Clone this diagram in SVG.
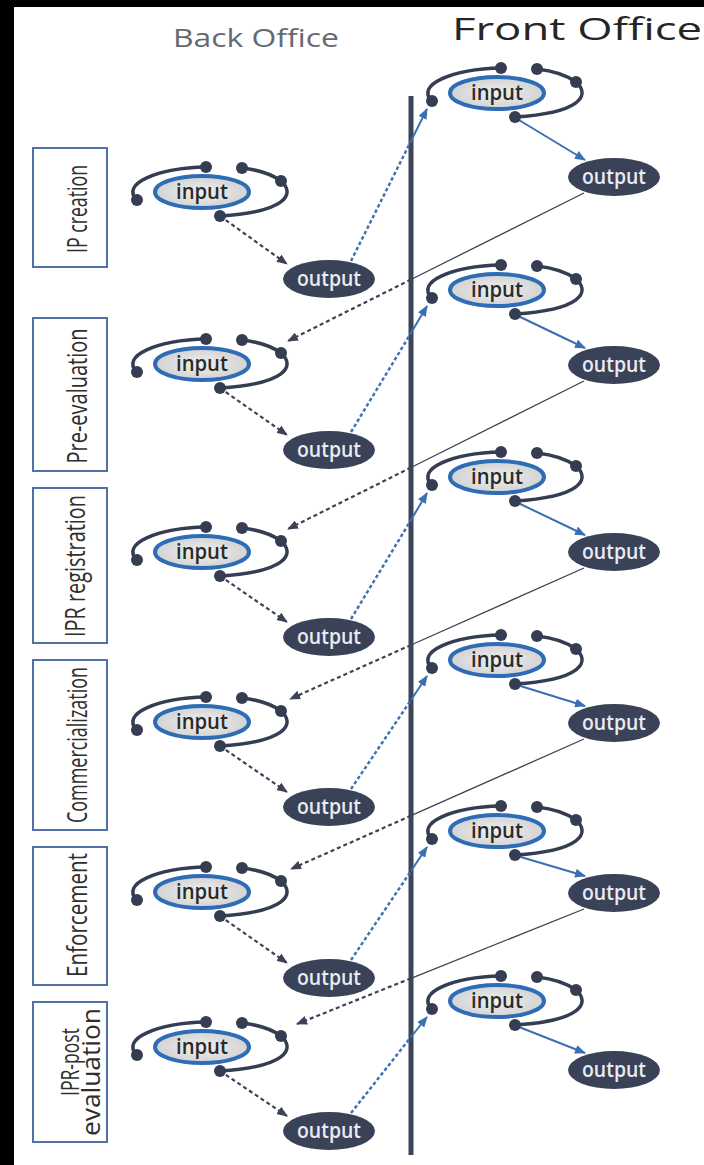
<svg xmlns="http://www.w3.org/2000/svg" xmlns:xlink="http://www.w3.org/1999/xlink" width="704" height="1165" viewBox="0 0 704 1165">
<style>
.lbl{font-family:"Open Sans","Liberation Sans",sans-serif;fill:#2f2f2f;text-anchor:middle}
.box{fill:#fff;stroke:#5071a6;stroke-width:2}
.in{font-family:"Open Sans","Liberation Sans",sans-serif;font-size:21px;font-weight:600;fill:#2a2a2a;text-anchor:middle}
.out{font-family:"Open Sans","Liberation Sans",sans-serif;font-size:21px;font-weight:600;fill:#e8ebf1;text-anchor:middle}
.outE{fill:#3a4258}
.dash{fill:none;stroke:#3d4357;stroke-width:2.2;stroke-dasharray:4 3}
.bdot{fill:none;stroke:#3e72b5;stroke-width:2.5;stroke-dasharray:3.5 2.5}
.bsol{fill:none;stroke:#3a6fb3;stroke-width:2}
.thin{fill:none;stroke:#3d4357;stroke-width:1.3}
</style>
<defs>
<radialGradient id="g" cx="0.5" cy="0.5" r="0.6">
<stop offset="0" stop-color="#efefef"/><stop offset="1" stop-color="#cdcdcd"/>
</radialGradient>
<g id="loop">
<path d="M4,-25 C-45,-24 -82,-8 -65,8" fill="none" stroke="#353d52" stroke-width="3.5"/>
<path d="M40,-24 C58,-22 72,-16 79,-11 C94,2 84,20 18,24" fill="none" stroke="#353d52" stroke-width="3.5"/>
<ellipse cx="0" cy="0" rx="47" ry="16" fill="url(#g)" stroke="#2e6db5" stroke-width="4"/>
<circle cx="4" cy="-25" r="6" fill="#353d52"/>
<circle cx="40" cy="-24" r="6" fill="#353d52"/>
<circle cx="79" cy="-11" r="6" fill="#353d52"/>
<circle cx="-65" cy="8" r="6" fill="#353d52"/>
<circle cx="18" cy="24" r="6" fill="#353d52"/>
</g>
<marker id="ad" markerUnits="userSpaceOnUse" markerWidth="11" markerHeight="9" refX="10" refY="4.5" orient="auto"><path d="M0,0 L11,4.5 L0,9 z" fill="#3d4357"/></marker>
<marker id="ab" markerUnits="userSpaceOnUse" markerWidth="11" markerHeight="9" refX="10" refY="4.5" orient="auto"><path d="M0,0 L11,4.5 L0,9 z" fill="#3a6fb3"/></marker>
</defs>
<rect x="0" y="0" width="704" height="1165" fill="#ffffff"/>
<rect x="0" y="0" width="704" height="7" fill="#000"/>
<rect x="0" y="0" width="14" height="1165" fill="#000"/>

<g id="headers">
<text x="256" y="47" font-family="Open Sans, Liberation Sans, sans-serif" font-size="25" fill="#666a70" text-anchor="middle" textLength="166" lengthAdjust="spacingAndGlyphs">Back Office</text>
<text x="452" y="40" font-family="Open Sans, Liberation Sans, sans-serif" font-size="31" fill="#262626" textLength="250" lengthAdjust="spacingAndGlyphs">Front Office</text>
</g>

<g id="divider"><line x1="411" y1="96" x2="411" y2="1155" stroke="#3b4459" stroke-width="5"/></g>

<g id="stages">
<g id="stage1"><rect class="box" x="33" y="148" width="74" height="119"/><text class="lbl" font-size="27" transform="translate(87,209) rotate(-90)" textLength="88" lengthAdjust="spacingAndGlyphs">IP creation</text></g>
<g id="stage2"><rect class="box" x="33" y="318" width="74" height="153"/><text class="lbl" font-size="27" transform="translate(87,396) rotate(-90)" textLength="135" lengthAdjust="spacingAndGlyphs">Pre-evaluation</text></g>
<g id="stage3"><rect class="box" x="33" y="488" width="74" height="155"/><text class="lbl" font-size="27" transform="translate(85,566) rotate(-90)" textLength="142" lengthAdjust="spacingAndGlyphs">IPR registration</text></g>
<g id="stage4"><rect class="box" x="33" y="660" width="74" height="170"/><text class="lbl" font-size="27" transform="translate(87,745) rotate(-90)" textLength="156" lengthAdjust="spacingAndGlyphs">Commercialization</text></g>
<g id="stage5"><rect class="box" x="33" y="847" width="74" height="138"/><text class="lbl" font-size="27" transform="translate(87,915) rotate(-90)" textLength="124" lengthAdjust="spacingAndGlyphs">Enforcement</text></g>
<g id="stage6"><rect class="box" x="33" y="1002" width="74" height="140"/><text class="lbl" font-size="25" transform="translate(79,1062) rotate(-90)" textLength="68" lengthAdjust="spacingAndGlyphs">IPR-post</text><text class="lbl" font-size="25" transform="translate(100,1072) rotate(-90)" textLength="128" lengthAdjust="spacingAndGlyphs">evaluation</text></g>
</g>

<g id="connectors">
<path class="dash" marker-end="url(#ad)" d="M220,216 L287,264"/>
<path class="dash" marker-end="url(#ad)" d="M220,388 L287,435"/>
<path class="dash" marker-end="url(#ad)" d="M220,576 L287,622"/>
<path class="dash" marker-end="url(#ad)" d="M220,746 L287,792"/>
<path class="dash" marker-end="url(#ad)" d="M220,916 L287,963"/>
<path class="dash" marker-end="url(#ad)" d="M220,1071 L287,1116"/>

<path class="bdot" d="M351,261 L411,141"/><path class="bsol" marker-end="url(#ab)" d="M411,141 L427,109"/>
<path class="bdot" d="M351,432 L411,333"/><path class="bsol" marker-end="url(#ab)" d="M411,333 L427,306"/>
<path class="bdot" d="M351,619 L411,520"/><path class="bsol" marker-end="url(#ab)" d="M411,520 L427,493"/>
<path class="bdot" d="M351,789 L411,700"/><path class="bsol" marker-end="url(#ab)" d="M411,700 L427,676"/>
<path class="bdot" d="M351,960 L411,871"/><path class="bsol" marker-end="url(#ab)" d="M411,871 L427,847"/>
<path class="bdot" d="M351,1113 L411,1037"/><path class="bsol" marker-end="url(#ab)" d="M411,1037 L427,1017"/>

<path class="bsol" marker-end="url(#ab)" d="M514,117 L585,160"/>
<path class="bsol" marker-end="url(#ab)" d="M514,314 L585,348"/>
<path class="bsol" marker-end="url(#ab)" d="M514,501 L585,535"/>
<path class="bsol" marker-end="url(#ab)" d="M514,684 L585,706"/>
<path class="bsol" marker-end="url(#ab)" d="M514,855 L585,876"/>
<path class="bsol" marker-end="url(#ab)" d="M514,1025 L585,1053"/>

<path class="thin" d="M584,193 L411,279.5"/><path class="dash" marker-end="url(#ad)" d="M411,279.5 L288,341"/>
<path class="thin" d="M584,381 L411,467.5"/><path class="dash" marker-end="url(#ad)" d="M411,467.5 L288,529"/>
<path class="thin" d="M584,568 L411,645"/><path class="dash" marker-end="url(#ad)" d="M411,645 L290,699"/>
<path class="thin" d="M584,739 L411,815.7"/><path class="dash" marker-end="url(#ad)" d="M411,815.7 L291,869"/>
<path class="thin" d="M584,909 L411,978.3"/><path class="dash" marker-end="url(#ad)" d="M411,978.3 L297,1024"/>
</g>

<g id="back-in-1"><use xlink:href="#loop" x="202" y="192"/><text class="in" x="202" y="199" textLength="52" lengthAdjust="spacingAndGlyphs">input</text></g>
<g id="back-out-1"><ellipse class="outE" cx="329" cy="279" rx="46" ry="19"/><text class="out" x="329" y="286" textLength="64" lengthAdjust="spacingAndGlyphs">output</text></g>
<g id="front-in-1"><use xlink:href="#loop" x="497" y="93"/><text class="in" x="497" y="100" textLength="52" lengthAdjust="spacingAndGlyphs">input</text></g>
<g id="front-out-1"><ellipse class="outE" cx="614" cy="177" rx="46" ry="19"/><text class="out" x="614" y="184" textLength="64" lengthAdjust="spacingAndGlyphs">output</text></g>

<g id="back-in-2"><use xlink:href="#loop" x="202" y="364"/><text class="in" x="202" y="371" textLength="52" lengthAdjust="spacingAndGlyphs">input</text></g>
<g id="back-out-2"><ellipse class="outE" cx="329" cy="450" rx="46" ry="19"/><text class="out" x="329" y="457" textLength="64" lengthAdjust="spacingAndGlyphs">output</text></g>
<g id="front-in-2"><use xlink:href="#loop" x="497" y="290"/><text class="in" x="497" y="297" textLength="52" lengthAdjust="spacingAndGlyphs">input</text></g>
<g id="front-out-2"><ellipse class="outE" cx="614" cy="365" rx="46" ry="19"/><text class="out" x="614" y="372" textLength="64" lengthAdjust="spacingAndGlyphs">output</text></g>

<g id="back-in-3"><use xlink:href="#loop" x="202" y="552"/><text class="in" x="202" y="559" textLength="52" lengthAdjust="spacingAndGlyphs">input</text></g>
<g id="back-out-3"><ellipse class="outE" cx="329" cy="637" rx="46" ry="19"/><text class="out" x="329" y="644" textLength="64" lengthAdjust="spacingAndGlyphs">output</text></g>
<g id="front-in-3"><use xlink:href="#loop" x="497" y="477"/><text class="in" x="497" y="484" textLength="52" lengthAdjust="spacingAndGlyphs">input</text></g>
<g id="front-out-3"><ellipse class="outE" cx="614" cy="552" rx="46" ry="19"/><text class="out" x="614" y="559" textLength="64" lengthAdjust="spacingAndGlyphs">output</text></g>

<g id="back-in-4"><use xlink:href="#loop" x="202" y="722"/><text class="in" x="202" y="729" textLength="52" lengthAdjust="spacingAndGlyphs">input</text></g>
<g id="back-out-4"><ellipse class="outE" cx="329" cy="807" rx="46" ry="19"/><text class="out" x="329" y="814" textLength="64" lengthAdjust="spacingAndGlyphs">output</text></g>
<g id="front-in-4"><use xlink:href="#loop" x="497" y="660"/><text class="in" x="497" y="667" textLength="52" lengthAdjust="spacingAndGlyphs">input</text></g>
<g id="front-out-4"><ellipse class="outE" cx="614" cy="723" rx="46" ry="19"/><text class="out" x="614" y="730" textLength="64" lengthAdjust="spacingAndGlyphs">output</text></g>

<g id="back-in-5"><use xlink:href="#loop" x="202" y="892"/><text class="in" x="202" y="899" textLength="52" lengthAdjust="spacingAndGlyphs">input</text></g>
<g id="back-out-5"><ellipse class="outE" cx="329" cy="978" rx="46" ry="19"/><text class="out" x="329" y="985" textLength="64" lengthAdjust="spacingAndGlyphs">output</text></g>
<g id="front-in-5"><use xlink:href="#loop" x="497" y="831"/><text class="in" x="497" y="838" textLength="52" lengthAdjust="spacingAndGlyphs">input</text></g>
<g id="front-out-5"><ellipse class="outE" cx="614" cy="893" rx="46" ry="19"/><text class="out" x="614" y="900" textLength="64" lengthAdjust="spacingAndGlyphs">output</text></g>

<g id="back-in-6"><use xlink:href="#loop" x="202" y="1047"/><text class="in" x="202" y="1054" textLength="52" lengthAdjust="spacingAndGlyphs">input</text></g>
<g id="back-out-6"><ellipse class="outE" cx="329" cy="1131" rx="46" ry="19"/><text class="out" x="329" y="1138" textLength="64" lengthAdjust="spacingAndGlyphs">output</text></g>
<g id="front-in-6"><use xlink:href="#loop" x="497" y="1001"/><text class="in" x="497" y="1008" textLength="52" lengthAdjust="spacingAndGlyphs">input</text></g>
<g id="front-out-6"><ellipse class="outE" cx="614" cy="1070" rx="46" ry="19"/><text class="out" x="614" y="1077" textLength="64" lengthAdjust="spacingAndGlyphs">output</text></g>
</svg>
